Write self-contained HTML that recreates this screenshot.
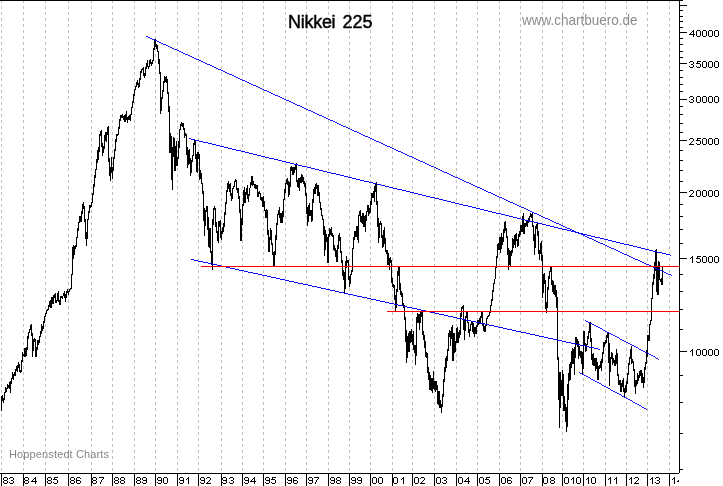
<!DOCTYPE html><html><head><meta charset="utf-8"><title>Nikkei 225</title><style>
html,body{margin:0;padding:0;background:#fff;}body{width:723px;height:486px;overflow:hidden;position:relative;font-family:"Liberation Sans",sans-serif;}
svg{position:absolute;left:0;top:0;}
.t{position:absolute;white-space:nowrap;line-height:1;color:#000;}#txt{position:absolute;left:0;top:0;width:723px;height:486px;will-change:transform;}
.xl{font-size:11px;letter-spacing:-0.05px;top:476px;-webkit-text-stroke:0.15px #000;transform:scaleY(0.88);transform-origin:0 0;}
.yl{font-size:11px;letter-spacing:0.05px;left:688.6px;-webkit-text-stroke:0.15px #000;transform:scaleY(0.88);transform-origin:0 0;}
</style></head><body>
<svg width="723" height="486" viewBox="0 0 723 486">
<path d="M1.5 0V473M23.5 0V473M45.5 0V473M68.5 0V473M91.5 0V473M112.5 0V473M134.5 0V473M155.5 0V473M177.5 0V473M198.5 0V473M221.5 0V473M242.5 0V473M263.5 0V473M285.5 0V473M306.5 0V473M328.5 0V473M349.5 0V473M370.5 0V473M392.5 0V473M412.5 0V473M434.5 0V473M456.5 0V473M477.5 0V473M499.5 0V473M520.5 0V473M542.5 0V473M562.5 0V473M583.5 0V473M605.5 0V473M626.5 0V473M647.5 0V473M669.5 0V473" stroke="#c0c0c0" stroke-width="1" stroke-dasharray="3 3" fill="none" shape-rendering="crispEdges"/>
<g fill="#000" shape-rendering="crispEdges">
<rect x="0" y="0" width="683" height="1"/>
<rect x="679" y="0" width="1" height="473"/>
<rect x="0" y="473" width="679" height="1"/>
<rect x="1" y="473" width="1" height="13"/>
<rect x="23" y="473" width="1" height="13"/>
<rect x="45" y="473" width="1" height="13"/>
<rect x="68" y="473" width="1" height="13"/>
<rect x="91" y="473" width="1" height="13"/>
<rect x="112" y="473" width="1" height="13"/>
<rect x="134" y="473" width="1" height="13"/>
<rect x="155" y="473" width="1" height="13"/>
<rect x="177" y="473" width="1" height="13"/>
<rect x="198" y="473" width="1" height="13"/>
<rect x="221" y="473" width="1" height="13"/>
<rect x="242" y="473" width="1" height="13"/>
<rect x="263" y="473" width="1" height="13"/>
<rect x="285" y="473" width="1" height="13"/>
<rect x="306" y="473" width="1" height="13"/>
<rect x="328" y="473" width="1" height="13"/>
<rect x="349" y="473" width="1" height="13"/>
<rect x="370" y="473" width="1" height="13"/>
<rect x="392" y="473" width="1" height="13"/>
<rect x="412" y="473" width="1" height="13"/>
<rect x="434" y="473" width="1" height="13"/>
<rect x="456" y="473" width="1" height="13"/>
<rect x="477" y="473" width="1" height="13"/>
<rect x="499" y="473" width="1" height="13"/>
<rect x="520" y="473" width="1" height="13"/>
<rect x="542" y="473" width="1" height="13"/>
<rect x="562" y="473" width="1" height="13"/>
<rect x="583" y="473" width="1" height="13"/>
<rect x="605" y="473" width="1" height="13"/>
<rect x="626" y="473" width="1" height="13"/>
<rect x="647" y="473" width="1" height="13"/>
<rect x="669" y="473" width="1" height="13"/>
<rect x="680" y="469" width="3" height="1"/>
<rect x="680" y="433" width="3" height="1"/>
<rect x="680" y="402" width="3" height="1"/>
<rect x="680" y="375" width="3" height="1"/>
<rect x="680" y="351" width="7" height="1"/>
<rect x="680" y="329" width="3" height="1"/>
<rect x="680" y="309" width="3" height="1"/>
<rect x="680" y="291" width="3" height="1"/>
<rect x="680" y="274" width="3" height="1"/>
<rect x="680" y="258" width="7" height="1"/>
<rect x="680" y="243" width="3" height="1"/>
<rect x="680" y="229" width="3" height="1"/>
<rect x="680" y="216" width="3" height="1"/>
<rect x="680" y="204" width="3" height="1"/>
<rect x="680" y="192" width="7" height="1"/>
<rect x="680" y="181" width="3" height="1"/>
<rect x="680" y="170" width="3" height="1"/>
<rect x="680" y="160" width="3" height="1"/>
<rect x="680" y="150" width="3" height="1"/>
<rect x="680" y="140" width="7" height="1"/>
<rect x="680" y="132" width="3" height="1"/>
<rect x="680" y="123" width="3" height="1"/>
<rect x="680" y="114" width="3" height="1"/>
<rect x="680" y="106" width="3" height="1"/>
<rect x="680" y="99" width="7" height="1"/>
<rect x="680" y="91" width="3" height="1"/>
<rect x="680" y="84" width="3" height="1"/>
<rect x="680" y="77" width="3" height="1"/>
<rect x="680" y="70" width="3" height="1"/>
<rect x="680" y="63" width="7" height="1"/>
<rect x="680" y="57" width="3" height="1"/>
<rect x="680" y="51" width="3" height="1"/>
<rect x="680" y="44" width="3" height="1"/>
<rect x="680" y="38" width="3" height="1"/>
<rect x="680" y="32" width="7" height="1"/>
<rect x="680" y="27" width="3" height="1"/>
<rect x="680" y="21" width="3" height="1"/>
<rect x="680" y="16" width="3" height="1"/>
<rect x="680" y="10" width="3" height="1"/>
<rect x="680" y="5" width="7" height="1"/>
</g>
<path d="M1.3 410.5 L1.3 400.1 L2.3 395.6 L3.5 403.1 L4.6 394.8 L5.8 389.0 L6.6 390.6 L7.8 384.5 L8.6 388.1 L9.6 382.3 L10.5 392.8 L11.0 381.5 L12.0 379.0 L12.6 372.4 L13.3 379.8 L14.3 373.2 L15.3 374.9 L16.6 366.6 L17.4 371.5 L18.6 361.6 L19.6 370.7 L20.9 372.4 L21.7 363.2 L22.9 354.1 L24.1 355.8 L24.9 348.3 L25.7 357.4 L26.9 350.0 L27.4 343.0 L28.5 333.1 L29.5 332.2 L30.4 327.3 L31.5 323.9 L32.0 335.6 L32.9 341.4 L32.4 356.6 L34.0 339.7 L34.9 338.9 L36.2 357.4 L37.8 339.7 L38.7 344.7 L39.8 337.2 L41.0 333.9 L41.5 323.9 L42.5 330.6 L43.5 326.4 L44.5 318.1 L45.6 314.8 L46.5 311.5 L47.6 309.8 L48.5 309.0 L49.5 303.2 L50.3 299.9 L51.1 308.2 L52.1 296.6 L53.1 304.0 L54.1 295.7 L55.3 294.1 L56.1 302.4 L57.3 299.9 L58.3 291.2 L58.9 300.7 L60.1 304.9 L61.1 296.6 L62.2 298.2 L63.4 294.9 L64.7 291.6 L65.4 301.5 L66.4 293.2 L67.6 289.6 L68.4 294.9 L69.4 289.9 L70.5 289.1 L71.5 287.9 L71.7 275.0 L72.5 273.3 L72.3 247.3 L72.9 258.9 L73.6 244.8 L74.3 254.8 L74.9 247.3 L75.8 248.1 L76.6 239.8 L77.6 234.0 L78.6 223.2 L79.4 221.6 L80.2 215.8 L81.1 221.6 L81.9 213.3 L82.7 205.0 L83.6 203.0 L84.2 210.0 L84.9 219.1 L85.7 227.4 L86.4 245.6 L87.1 235.7 L87.7 221.6 L88.7 214.9 L89.7 205.0 L90.7 208.3 L91.5 204.1 L92.7 200.8 L92.4 200.0 L93.2 192.2 L94.4 182.2 L95.5 172.3 L96.8 164.8 L97.7 149.9 L98.5 159.8 L99.5 139.9 L100.3 132.4 L101.2 131.6 L101.8 141.6 L102.7 155.7 L103.5 145.7 L104.5 149.0 L105.3 131.6 L106.3 141.6 L107.3 130.0 L108.5 126.3 L108.8 156.5 L109.6 169.8 L110.6 180.6 L111.5 157.3 L112.4 178.9 L113.4 163.2 L114.4 154.9 L115.6 144.9 L116.6 134.9 L117.8 135.8 L118.9 129.1 L119.6 123.1 L120.6 116.4 L121.6 117.3 L122.6 113.9 L123.4 119.8 L124.4 114.8 L125.2 122.2 L126.4 111.5 L127.4 123.1 L128.4 116.4 L129.4 115.6 L130.2 120.6 L131.2 113.1 L132.4 104.8 L133.5 99.8 L134.6 90.5 L135.6 88.0 L136.6 83.9 L137.6 80.6 L138.6 88.0 L139.6 83.1 L140.4 75.6 L141.4 69.8 L142.4 69.0 L143.4 68.1 L144.4 78.1 L145.4 73.9 L146.4 64.8 L147.4 62.3 L148.4 69.0 L149.4 64.8 L150.4 59.0 L151.4 65.6 L152.4 61.5 L153.2 59.8 L154.0 49.0 L154.9 40.7 L155.5 39.9 L156.3 49.0 L157.2 44.9 L158.0 51.5 L158.7 55.7 L159.5 69.8 L160.3 74.8 L160.8 100.0 L160.7 113.9 L161.7 99.8 L162.7 93.2 L163.7 84.9 L164.7 75.8 L165.7 81.6 L166.7 75.8 L167.6 90.7 L168.4 94.9 L169.2 113.1 L169.7 129.7 L169.9 153.1 L170.6 133.2 L171.2 139.8 L172.1 178.0 L172.4 189.6 L172.9 156.4 L173.4 137.3 L174.2 139.0 L175.1 171.4 L175.7 153.1 L176.4 141.5 L177.1 165.6 L177.9 158.9 L178.7 153.1 L179.5 131.5 L180.5 128.2 L181.5 122.4 L182.4 126.6 L183.2 123.2 L184.0 129.0 L184.9 135.7 L185.9 134.0 L186.7 139.8 L187.5 168.0 L188.3 161.4 L189.2 149.0 L189.8 156.4 L190.7 175.5 L191.5 166.4 L192.3 158.1 L193.2 154.8 L194.0 143.2 L194.8 139.8 L195.6 148.1 L196.5 166.4 L197.3 173.0 L198.1 152.3 L199.0 154.8 L199.8 180.0 L200.6 169.7 L201.5 180.8 L202.3 184.9 L203.1 193.2 L203.9 208.2 L204.4 235.6 L205.3 218.1 L206.1 209.8 L206.9 206.5 L207.8 213.2 L208.4 243.0 L209.3 248.0 L210.1 228.1 L210.7 250.0 L211.7 256.6 L212.4 269.9 L212.4 236.4 L213.1 219.8 L213.9 209.8 L214.6 205.7 L215.4 211.5 L216.1 226.4 L216.9 231.4 L217.6 236.4 L218.4 243.0 L219.0 221.5 L219.9 227.3 L220.5 219.8 L221.2 239.7 L222.0 233.1 L222.7 227.3 L223.5 232.2 L224.4 219.8 L225.2 211.5 L226.0 203.2 L226.8 193.2 L227.7 184.9 L228.5 180.8 L229.3 191.6 L230.2 183.3 L231.0 194.9 L231.7 200.7 L232.5 191.6 L233.3 186.6 L234.1 186.6 L235.0 181.6 L235.8 179.1 L236.6 186.6 L237.5 191.6 L238.3 189.9 L239.1 198.2 L239.8 208.2 L240.5 218.1 L241.0 241.4 L241.6 233.1 L242.3 213.2 L242.9 205.7 L243.6 199.9 L244.3 187.4 L244.9 203.2 L245.8 191.6 L246.6 194.9 L247.4 184.9 L248.3 202.4 L249.1 194.1 L249.9 188.3 L250.7 186.6 L251.6 178.3 L252.2 175.8 L252.9 184.1 L253.7 182.4 L254.6 188.3 L255.4 185.8 L256.2 189.1 L257.1 184.9 L257.9 197.4 L258.7 194.9 L259.5 190.7 L260.4 195.7 L261.2 200.7 L262.0 197.4 L262.9 206.5 L263.5 195.7 L264.4 208.2 L265.2 211.5 L266.0 218.1 L266.8 209.0 L267.7 219.8 L267.5 234.9 L268.3 230.0 L269.1 251.5 L270.0 238.3 L270.8 228.3 L271.6 241.6 L272.4 246.6 L273.3 256.5 L274.1 265.6 L274.9 254.9 L275.8 241.6 L276.6 226.6 L277.4 221.7 L277.9 214.7 L278.8 212.2 L279.6 207.3 L280.4 223.0 L281.2 213.1 L282.1 223.0 L282.9 216.4 L283.7 199.8 L284.6 198.1 L285.4 184.9 L286.2 183.2 L287.1 179.0 L287.9 180.7 L288.7 194.8 L289.5 193.2 L290.4 178.2 L291.2 166.6 L292.0 167.4 L292.9 174.9 L293.7 167.4 L294.5 173.2 L295.4 164.9 L296.2 164.1 L296.8 179.9 L297.7 186.5 L298.5 178.2 L299.3 190.7 L300.2 176.6 L301.0 183.2 L301.8 174.1 L302.7 182.4 L303.5 176.6 L304.3 186.5 L305.1 183.2 L306.0 194.8 L306.8 204.8 L307.6 225.5 L308.5 213.1 L309.3 203.1 L310.1 216.4 L311.0 209.8 L311.8 222.2 L312.6 208.1 L313.4 194.8 L314.3 187.3 L315.1 194.0 L315.9 184.9 L316.8 184.0 L317.6 195.6 L318.4 184.9 L319.3 198.1 L320.1 203.1 L320.9 208.1 L321.7 214.7 L322.6 218.0 L323.4 221.4 L323.9 226.6 L324.7 255.7 L325.6 230.0 L326.4 241.6 L327.2 236.6 L328.0 263.2 L328.9 236.6 L329.7 228.3 L330.5 234.9 L331.4 226.6 L332.2 236.6 L333.0 234.9 L333.9 249.9 L334.7 244.9 L335.5 256.5 L336.3 249.9 L337.2 262.3 L338.0 246.6 L338.8 236.6 L339.7 233.3 L340.5 246.6 L341.3 254.9 L342.2 263.2 L343.0 276.4 L343.8 269.8 L344.6 293.0 L345.5 279.8 L346.3 255.7 L347.1 263.2 L348.0 259.8 L348.8 274.8 L349.6 287.2 L350.5 276.4 L351.3 273.9 L352.1 271.5 L352.6 250.7 L353.4 246.6 L354.3 234.9 L355.1 231.6 L355.9 236.6 L356.8 225.8 L357.6 230.8 L358.3 243.2 L358.8 216.4 L360.4 209.8 L361.2 223.0 L362.1 216.4 L362.9 213.1 L363.2 226.6 L364.6 216.4 L365.4 231.6 L366.2 213.9 L367.1 211.4 L367.9 204.8 L368.7 215.6 L369.5 208.1 L370.4 213.1 L371.2 199.8 L372.0 193.2 L372.9 198.1 L373.7 190.7 L374.5 201.5 L375.2 184.9 L376.0 184.0 L377.1 204.9 L377.9 218.1 L378.6 242.2 L378.6 242.5 L379.4 229.8 L380.3 221.5 L381.1 223.1 L381.9 234.7 L382.8 248.0 L383.6 236.4 L384.4 227.3 L385.2 245.0 L386.1 252.4 L386.9 250.0 L387.7 264.9 L388.6 253.3 L389.4 269.9 L390.2 256.6 L391.1 261.6 L391.6 283.2 L392.4 278.2 L393.2 288.1 L394.0 284.8 L394.9 294.8 L395.7 311.4 L396.5 296.4 L397.4 286.5 L398.2 269.9 L399.0 266.6 L399.5 289.8 L400.4 283.2 L401.2 296.4 L402.0 293.1 L402.8 306.4 L403.7 303.1 L405.0 318.3 L405.8 326.6 L406.6 363.1 L407.4 348.1 L408.3 333.2 L409.1 351.5 L409.9 331.5 L410.8 343.2 L411.6 329.0 L412.4 344.8 L413.3 331.5 L414.1 349.8 L414.9 348.1 L415.7 364.7 L416.6 324.9 L417.4 313.3 L418.2 323.2 L419.1 314.1 L419.6 329.9 L420.4 312.4 L421.2 316.6 L422.1 312.4 L422.9 334.9 L423.7 331.5 L424.5 348.1 L425.4 341.5 L426.2 358.1 L427.0 353.1 L427.9 373.2 L428.7 366.6 L429.5 389.8 L430.4 374.9 L431.2 390.7 L432.0 378.2 L432.8 393.2 L433.3 370.7 L434.2 389.8 L435.0 381.5 L435.8 391.5 L436.5 381.5 L437.3 389.8 L438.2 404.8 L439.0 391.5 L439.8 408.1 L440.6 399.8 L441.5 413.1 L442.3 401.5 L443.1 394.8 L444.0 379.9 L444.8 373.2 L445.6 358.1 L446.5 368.0 L447.3 353.1 L448.1 349.8 L448.9 334.9 L449.8 329.9 L450.6 345.6 L451.4 328.2 L452.3 326.6 L453.1 360.6 L453.9 333.2 L454.8 353.1 L455.6 344.8 L456.4 339.8 L457.2 327.4 L458.1 343.2 L458.9 332.4 L459.7 338.2 L460.6 321.6 L461.4 308.3 L462.2 307.5 L463.0 306.6 L463.9 319.9 L464.4 339.8 L465.2 324.9 L466.0 316.6 L466.9 312.4 L467.7 321.6 L468.5 324.9 L469.4 336.5 L470.2 328.2 L471.0 324.9 L471.8 321.6 L472.7 331.5 L473.5 323.2 L474.3 336.5 L475.2 326.6 L476.0 334.0 L476.8 327.4 L477.7 319.9 L478.5 324.9 L479.3 318.3 L480.1 324.1 L481.0 316.6 L481.8 310.8 L482.6 319.9 L483.5 330.7 L484.3 326.6 L485.1 332.4 L486.0 324.9 L486.8 319.1 L487.6 316.6 L488.4 315.8 L489.3 314.9 L490.1 311.6 L490.9 305.8 L491.8 301.7 L492.1 299.8 L492.9 291.5 L493.8 284.9 L494.6 279.9 L495.4 278.3 L495.7 269.7 L496.6 261.4 L497.4 253.1 L498.2 243.2 L499.1 249.8 L499.9 237.3 L500.7 253.1 L501.6 233.2 L502.4 244.8 L503.2 239.8 L504.0 231.5 L504.5 222.4 L505.4 221.6 L506.2 231.5 L507.0 236.5 L507.9 248.1 L508.7 269.7 L509.5 249.8 L510.4 266.4 L511.2 249.8 L512.0 253.1 L512.8 238.2 L513.7 248.1 L514.5 234.9 L515.3 248.1 L516.2 233.2 L517.0 239.8 L517.8 246.5 L518.7 238.2 L519.5 230.7 L520.3 234.9 L521.1 224.9 L522.0 232.4 L522.8 218.3 L523.6 213.3 L524.1 234.0 L525.0 223.2 L525.8 226.6 L526.6 220.7 L527.4 227.4 L528.3 218.3 L529.1 222.4 L529.9 216.6 L530.8 214.1 L531.6 218.3 L532.4 212.4 L532.9 224.9 L533.8 231.5 L534.6 254.8 L535.4 234.9 L536.2 224.9 L537.1 224.1 L537.9 230.7 L538.7 248.1 L539.6 259.8 L540.4 244.8 L541.2 243.2 L542.1 258.1 L542.7 298.2 L543.5 276.6 L544.4 273.3 L545.2 284.9 L546.0 308.1 L546.7 313.1 L547.5 293.2 L548.4 284.9 L549.2 274.9 L550.0 271.6 L550.9 267.5 L551.7 276.6 L552.5 291.5 L553.3 280.7 L554.2 294.9 L555.0 284.9 L555.8 296.5 L556.7 289.9 L557.2 309.8 L557.6 354.0 L558.4 362.0 L558.4 397.0 L558.9 375.0 L559.4 428.0 L559.9 372.0 L560.4 408.0 L560.9 385.0 L561.4 396.0 L561.9 389.0 L562.4 370.0 L562.9 396.0 L563.2 374.0 L563.6 411.0 L564.4 396.0 L564.9 411.0 L565.4 404.0 L565.9 415.0 L566.5 432.0 L567.3 400.0 L567.5 427.0 L568.2 380.0 L568.5 400.0 L569.0 376.0 L569.6 364.0 L570.2 380.0 L570.6 362.0 L571.2 368.0 L571.5 351.0 L571.9 364.0 L572.3 348.5 L572.7 363.0 L573.2 349.5 L573.6 364.0 L574.0 355.0 L574.5 374.7 L575.3 339.9 L576.2 337.4 L577.0 344.9 L577.8 339.0 L578.7 359.0 L579.5 345.7 L580.3 358.1 L581.1 351.5 L582.0 361.5 L582.8 373.9 L583.3 341.5 L584.1 330.7 L585.0 344.9 L585.8 351.5 L586.6 345.7 L587.4 343.2 L588.3 334.9 L589.1 331.6 L589.9 322.4 L590.8 336.6 L591.6 348.2 L592.4 364.8 L593.3 353.2 L594.1 366.4 L594.9 358.1 L595.7 371.4 L596.6 358.1 L597.4 369.8 L598.1 379.7 L598.9 366.4 L599.7 368.1 L600.6 361.5 L601.4 371.4 L602.2 358.1 L603.0 353.2 L603.9 344.0 L604.7 345.7 L605.5 339.9 L606.4 342.4 L607.2 334.9 L608.0 332.4 L608.9 343.2 L609.4 385.5 L610.2 363.1 L611.0 358.1 L611.8 352.3 L612.7 364.8 L613.5 358.1 L614.3 363.1 L615.2 366.4 L616.0 356.5 L616.8 349.0 L617.3 371.4 L618.3 376.6 L619.1 384.9 L620.0 380.0 L620.8 392.4 L621.6 383.3 L622.5 386.6 L623.3 378.3 L624.1 391.6 L624.6 397.4 L625.5 384.9 L626.3 391.6 L627.1 381.6 L627.9 375.0 L628.1 373.1 L628.9 364.8 L629.8 359.0 L630.6 354.8 L631.4 345.7 L631.9 361.5 L632.8 359.8 L633.6 366.4 L634.4 373.1 L635.1 386.6 L635.6 394.1 L636.1 379.7 L636.9 383.9 L637.7 373.1 L638.6 381.4 L639.4 371.4 L640.2 376.4 L641.1 369.8 L641.9 383.0 L642.7 373.1 L643.5 388.0 L644.4 376.4 L645.2 366.4 L646.0 363.1 L646.9 356.5 L647.4 343.2 L648.2 334.9 L649.0 340.7 L649.9 324.9 L650.7 321.6 L651.5 319.1 L651.9 306.6 L651.7 299.0 L652.5 297.0 L653.0 282.5 L653.8 281.0 L654.3 271.5 L654.9 270.0 L655.4 252.0 L655.6 271.0 L656.0 250.5 L656.4 249.0 L656.5 271.0 L656.8 251.0 L657.0 292.0 L657.6 281.0 L658.0 294.5 L658.3 262.0 L658.7 261.2 L658.9 279.0 L659.4 262.0 L659.8 279.5 L660.6 279.5 L661.4 283.0 L661.9 285.4 L662.5 266.5 L662.7 282.6" stroke="#000" stroke-width="1.25" fill="none" stroke-linejoin="miter" shape-rendering="crispEdges"/>
<g stroke="#0000ff" stroke-width="1" fill="none" shape-rendering="crispEdges">
<line x1="146.1" y1="36.1" x2="671.7" y2="275.5" stroke-width="0.910"/>
<line x1="189.0" y1="138.5" x2="671.0" y2="255.3" stroke-width="0.972"/>
<line x1="191.2" y1="259.4" x2="600.0" y2="349.4" stroke-width="0.977"/>
<line x1="585.1" y1="320.3" x2="658.9" y2="359.3" stroke-width="0.884"/>
<line x1="579.0" y1="372.2" x2="647.0" y2="409.5" stroke-width="0.877"/>
</g>
<g fill="#ff0000" shape-rendering="crispEdges"><rect x="201" y="266" width="478" height="1"/><rect x="387" y="311" width="292" height="1"/></g>
<path d="M4 477h3v1h-3zM3 478h1v1h-1zM7 478h1v1h-1zM3 479h1v1h-1zM7 479h1v1h-1zM4 480h3v1h-3zM3 481h1v1h-1zM7 481h1v1h-1zM3 482h1v1h-1zM7 482h1v1h-1zM4 483h3v1h-3zM10 477h3v1h-3zM9 478h1v1h-1zM13 478h1v1h-1zM13 479h1v1h-1zM11 480h2v1h-2zM13 481h1v1h-1zM9 482h1v1h-1zM13 482h1v1h-1zM10 483h3v1h-3zM25 477h3v1h-3zM24 478h1v1h-1zM28 478h1v1h-1zM24 479h1v1h-1zM28 479h1v1h-1zM25 480h3v1h-3zM24 481h1v1h-1zM28 481h1v1h-1zM24 482h1v1h-1zM28 482h1v1h-1zM25 483h3v1h-3zM35 477h1v1h-1zM34 478h2v1h-2zM33 479h1v1h-1zM35 479h1v1h-1zM32 480h1v1h-1zM35 480h1v1h-1zM31 481h6v1h-6zM35 482h1v1h-1zM35 483h1v1h-1zM48 477h3v1h-3zM47 478h1v1h-1zM51 478h1v1h-1zM47 479h1v1h-1zM51 479h1v1h-1zM48 480h3v1h-3zM47 481h1v1h-1zM51 481h1v1h-1zM47 482h1v1h-1zM51 482h1v1h-1zM48 483h3v1h-3zM54 477h4v1h-4zM54 478h1v1h-1zM53 479h4v1h-4zM57 480h1v1h-1zM57 481h1v1h-1zM53 482h1v1h-1zM57 482h1v1h-1zM54 483h3v1h-3zM71 477h3v1h-3zM70 478h1v1h-1zM74 478h1v1h-1zM70 479h1v1h-1zM74 479h1v1h-1zM71 480h3v1h-3zM70 481h1v1h-1zM74 481h1v1h-1zM70 482h1v1h-1zM74 482h1v1h-1zM71 483h3v1h-3zM77 477h3v1h-3zM76 478h1v1h-1zM80 478h1v1h-1zM76 479h1v1h-1zM76 480h4v1h-4zM76 481h1v1h-1zM80 481h1v1h-1zM76 482h1v1h-1zM80 482h1v1h-1zM77 483h3v1h-3zM93 477h3v1h-3zM92 478h1v1h-1zM96 478h1v1h-1zM92 479h1v1h-1zM96 479h1v1h-1zM93 480h3v1h-3zM92 481h1v1h-1zM96 481h1v1h-1zM92 482h1v1h-1zM96 482h1v1h-1zM93 483h3v1h-3zM99 477h5v1h-5zM103 478h1v1h-1zM102 479h1v1h-1zM101 480h1v1h-1zM101 481h1v1h-1zM100 482h1v1h-1zM100 483h1v1h-1zM115 477h3v1h-3zM114 478h1v1h-1zM118 478h1v1h-1zM114 479h1v1h-1zM118 479h1v1h-1zM115 480h3v1h-3zM114 481h1v1h-1zM118 481h1v1h-1zM114 482h1v1h-1zM118 482h1v1h-1zM115 483h3v1h-3zM121 477h3v1h-3zM120 478h1v1h-1zM124 478h1v1h-1zM120 479h1v1h-1zM124 479h1v1h-1zM121 480h3v1h-3zM120 481h1v1h-1zM124 481h1v1h-1zM120 482h1v1h-1zM124 482h1v1h-1zM121 483h3v1h-3zM137 477h3v1h-3zM136 478h1v1h-1zM140 478h1v1h-1zM136 479h1v1h-1zM140 479h1v1h-1zM137 480h3v1h-3zM136 481h1v1h-1zM140 481h1v1h-1zM136 482h1v1h-1zM140 482h1v1h-1zM137 483h3v1h-3zM143 477h3v1h-3zM142 478h1v1h-1zM146 478h1v1h-1zM142 479h1v1h-1zM146 479h1v1h-1zM143 480h4v1h-4zM146 481h1v1h-1zM142 482h1v1h-1zM146 482h1v1h-1zM143 483h3v1h-3zM158 477h3v1h-3zM157 478h1v1h-1zM161 478h1v1h-1zM157 479h1v1h-1zM161 479h1v1h-1zM158 480h4v1h-4zM161 481h1v1h-1zM157 482h1v1h-1zM161 482h1v1h-1zM158 483h3v1h-3zM164 477h3v1h-3zM163 478h1v1h-1zM167 478h1v1h-1zM163 479h1v1h-1zM167 479h1v1h-1zM163 480h1v1h-1zM167 480h1v1h-1zM163 481h1v1h-1zM167 481h1v1h-1zM163 482h1v1h-1zM167 482h1v1h-1zM164 483h3v1h-3zM180 477h3v1h-3zM179 478h1v1h-1zM183 478h1v1h-1zM179 479h1v1h-1zM183 479h1v1h-1zM180 480h4v1h-4zM183 481h1v1h-1zM179 482h1v1h-1zM183 482h1v1h-1zM180 483h3v1h-3zM188 477h1v1h-1zM187 478h2v1h-2zM186 479h1v1h-1zM188 479h1v1h-1zM188 480h1v1h-1zM188 481h1v1h-1zM188 482h1v1h-1zM188 483h1v1h-1zM201 477h3v1h-3zM200 478h1v1h-1zM204 478h1v1h-1zM200 479h1v1h-1zM204 479h1v1h-1zM201 480h4v1h-4zM204 481h1v1h-1zM200 482h1v1h-1zM204 482h1v1h-1zM201 483h3v1h-3zM207 477h3v1h-3zM206 478h1v1h-1zM210 478h1v1h-1zM210 479h1v1h-1zM209 480h1v1h-1zM208 481h1v1h-1zM207 482h1v1h-1zM206 483h5v1h-5zM223 477h3v1h-3zM222 478h1v1h-1zM226 478h1v1h-1zM222 479h1v1h-1zM226 479h1v1h-1zM223 480h4v1h-4zM226 481h1v1h-1zM222 482h1v1h-1zM226 482h1v1h-1zM223 483h3v1h-3zM230 477h3v1h-3zM229 478h1v1h-1zM233 478h1v1h-1zM233 479h1v1h-1zM231 480h2v1h-2zM233 481h1v1h-1zM229 482h1v1h-1zM233 482h1v1h-1zM230 483h3v1h-3zM245 477h3v1h-3zM244 478h1v1h-1zM248 478h1v1h-1zM244 479h1v1h-1zM248 479h1v1h-1zM245 480h4v1h-4zM248 481h1v1h-1zM244 482h1v1h-1zM248 482h1v1h-1zM245 483h3v1h-3zM254 477h1v1h-1zM253 478h2v1h-2zM252 479h1v1h-1zM254 479h1v1h-1zM251 480h1v1h-1zM254 480h1v1h-1zM250 481h6v1h-6zM254 482h1v1h-1zM254 483h1v1h-1zM266 477h3v1h-3zM265 478h1v1h-1zM269 478h1v1h-1zM265 479h1v1h-1zM269 479h1v1h-1zM266 480h4v1h-4zM269 481h1v1h-1zM265 482h1v1h-1zM269 482h1v1h-1zM266 483h3v1h-3zM272 477h4v1h-4zM272 478h1v1h-1zM271 479h4v1h-4zM275 480h1v1h-1zM275 481h1v1h-1zM271 482h1v1h-1zM275 482h1v1h-1zM272 483h3v1h-3zM288 477h3v1h-3zM287 478h1v1h-1zM291 478h1v1h-1zM287 479h1v1h-1zM291 479h1v1h-1zM288 480h4v1h-4zM291 481h1v1h-1zM287 482h1v1h-1zM291 482h1v1h-1zM288 483h3v1h-3zM294 477h3v1h-3zM293 478h1v1h-1zM297 478h1v1h-1zM293 479h1v1h-1zM293 480h4v1h-4zM293 481h1v1h-1zM297 481h1v1h-1zM293 482h1v1h-1zM297 482h1v1h-1zM294 483h3v1h-3zM309 477h3v1h-3zM308 478h1v1h-1zM312 478h1v1h-1zM308 479h1v1h-1zM312 479h1v1h-1zM309 480h4v1h-4zM312 481h1v1h-1zM308 482h1v1h-1zM312 482h1v1h-1zM309 483h3v1h-3zM314 477h5v1h-5zM318 478h1v1h-1zM317 479h1v1h-1zM316 480h1v1h-1zM316 481h1v1h-1zM315 482h1v1h-1zM315 483h1v1h-1zM331 477h3v1h-3zM330 478h1v1h-1zM334 478h1v1h-1zM330 479h1v1h-1zM334 479h1v1h-1zM331 480h4v1h-4zM334 481h1v1h-1zM330 482h1v1h-1zM334 482h1v1h-1zM331 483h3v1h-3zM337 477h3v1h-3zM336 478h1v1h-1zM340 478h1v1h-1zM336 479h1v1h-1zM340 479h1v1h-1zM337 480h3v1h-3zM336 481h1v1h-1zM340 481h1v1h-1zM336 482h1v1h-1zM340 482h1v1h-1zM337 483h3v1h-3zM352 477h3v1h-3zM351 478h1v1h-1zM355 478h1v1h-1zM351 479h1v1h-1zM355 479h1v1h-1zM352 480h4v1h-4zM355 481h1v1h-1zM351 482h1v1h-1zM355 482h1v1h-1zM352 483h3v1h-3zM358 477h3v1h-3zM357 478h1v1h-1zM361 478h1v1h-1zM357 479h1v1h-1zM361 479h1v1h-1zM358 480h4v1h-4zM361 481h1v1h-1zM357 482h1v1h-1zM361 482h1v1h-1zM358 483h3v1h-3zM373 477h3v1h-3zM372 478h1v1h-1zM376 478h1v1h-1zM372 479h1v1h-1zM376 479h1v1h-1zM372 480h1v1h-1zM376 480h1v1h-1zM372 481h1v1h-1zM376 481h1v1h-1zM372 482h1v1h-1zM376 482h1v1h-1zM373 483h3v1h-3zM379 477h3v1h-3zM378 478h1v1h-1zM382 478h1v1h-1zM378 479h1v1h-1zM382 479h1v1h-1zM378 480h1v1h-1zM382 480h1v1h-1zM378 481h1v1h-1zM382 481h1v1h-1zM378 482h1v1h-1zM382 482h1v1h-1zM379 483h3v1h-3zM394 477h3v1h-3zM393 478h1v1h-1zM397 478h1v1h-1zM393 479h1v1h-1zM397 479h1v1h-1zM393 480h1v1h-1zM397 480h1v1h-1zM393 481h1v1h-1zM397 481h1v1h-1zM393 482h1v1h-1zM397 482h1v1h-1zM394 483h3v1h-3zM403 477h1v1h-1zM402 478h2v1h-2zM401 479h1v1h-1zM403 479h1v1h-1zM403 480h1v1h-1zM403 481h1v1h-1zM403 482h1v1h-1zM403 483h1v1h-1zM415 477h3v1h-3zM414 478h1v1h-1zM418 478h1v1h-1zM414 479h1v1h-1zM418 479h1v1h-1zM414 480h1v1h-1zM418 480h1v1h-1zM414 481h1v1h-1zM418 481h1v1h-1zM414 482h1v1h-1zM418 482h1v1h-1zM415 483h3v1h-3zM421 477h3v1h-3zM420 478h1v1h-1zM424 478h1v1h-1zM424 479h1v1h-1zM423 480h1v1h-1zM422 481h1v1h-1zM421 482h1v1h-1zM420 483h5v1h-5zM437 477h3v1h-3zM436 478h1v1h-1zM440 478h1v1h-1zM436 479h1v1h-1zM440 479h1v1h-1zM436 480h1v1h-1zM440 480h1v1h-1zM436 481h1v1h-1zM440 481h1v1h-1zM436 482h1v1h-1zM440 482h1v1h-1zM437 483h3v1h-3zM443 477h3v1h-3zM442 478h1v1h-1zM446 478h1v1h-1zM446 479h1v1h-1zM444 480h2v1h-2zM446 481h1v1h-1zM442 482h1v1h-1zM446 482h1v1h-1zM443 483h3v1h-3zM459 477h3v1h-3zM458 478h1v1h-1zM462 478h1v1h-1zM458 479h1v1h-1zM462 479h1v1h-1zM458 480h1v1h-1zM462 480h1v1h-1zM458 481h1v1h-1zM462 481h1v1h-1zM458 482h1v1h-1zM462 482h1v1h-1zM459 483h3v1h-3zM468 477h1v1h-1zM467 478h2v1h-2zM466 479h1v1h-1zM468 479h1v1h-1zM465 480h1v1h-1zM468 480h1v1h-1zM464 481h6v1h-6zM468 482h1v1h-1zM468 483h1v1h-1zM480 477h3v1h-3zM479 478h1v1h-1zM483 478h1v1h-1zM479 479h1v1h-1zM483 479h1v1h-1zM479 480h1v1h-1zM483 480h1v1h-1zM479 481h1v1h-1zM483 481h1v1h-1zM479 482h1v1h-1zM483 482h1v1h-1zM480 483h3v1h-3zM486 477h4v1h-4zM486 478h1v1h-1zM485 479h4v1h-4zM489 480h1v1h-1zM489 481h1v1h-1zM485 482h1v1h-1zM489 482h1v1h-1zM486 483h3v1h-3zM502 477h3v1h-3zM501 478h1v1h-1zM505 478h1v1h-1zM501 479h1v1h-1zM505 479h1v1h-1zM501 480h1v1h-1zM505 480h1v1h-1zM501 481h1v1h-1zM505 481h1v1h-1zM501 482h1v1h-1zM505 482h1v1h-1zM502 483h3v1h-3zM508 477h3v1h-3zM507 478h1v1h-1zM511 478h1v1h-1zM507 479h1v1h-1zM507 480h4v1h-4zM507 481h1v1h-1zM511 481h1v1h-1zM507 482h1v1h-1zM511 482h1v1h-1zM508 483h3v1h-3zM523 477h3v1h-3zM522 478h1v1h-1zM526 478h1v1h-1zM522 479h1v1h-1zM526 479h1v1h-1zM522 480h1v1h-1zM526 480h1v1h-1zM522 481h1v1h-1zM526 481h1v1h-1zM522 482h1v1h-1zM526 482h1v1h-1zM523 483h3v1h-3zM528 477h5v1h-5zM532 478h1v1h-1zM531 479h1v1h-1zM530 480h1v1h-1zM530 481h1v1h-1zM529 482h1v1h-1zM529 483h1v1h-1zM544 477h3v1h-3zM543 478h1v1h-1zM547 478h1v1h-1zM543 479h1v1h-1zM547 479h1v1h-1zM543 480h1v1h-1zM547 480h1v1h-1zM543 481h1v1h-1zM547 481h1v1h-1zM543 482h1v1h-1zM547 482h1v1h-1zM544 483h3v1h-3zM551 477h3v1h-3zM550 478h1v1h-1zM554 478h1v1h-1zM550 479h1v1h-1zM554 479h1v1h-1zM551 480h3v1h-3zM550 481h1v1h-1zM554 481h1v1h-1zM550 482h1v1h-1zM554 482h1v1h-1zM551 483h3v1h-3zM565 477h3v1h-3zM564 478h1v1h-1zM568 478h1v1h-1zM564 479h1v1h-1zM568 479h1v1h-1zM564 480h1v1h-1zM568 480h1v1h-1zM564 481h1v1h-1zM568 481h1v1h-1zM564 482h1v1h-1zM568 482h1v1h-1zM565 483h3v1h-3zM573 477h1v1h-1zM572 478h2v1h-2zM571 479h1v1h-1zM573 479h1v1h-1zM573 480h1v1h-1zM573 481h1v1h-1zM573 482h1v1h-1zM573 483h1v1h-1zM577 477h3v1h-3zM576 478h1v1h-1zM580 478h1v1h-1zM576 479h1v1h-1zM580 479h1v1h-1zM576 480h1v1h-1zM580 480h1v1h-1zM576 481h1v1h-1zM580 481h1v1h-1zM576 482h1v1h-1zM580 482h1v1h-1zM577 483h3v1h-3zM588 477h1v1h-1zM587 478h2v1h-2zM586 479h1v1h-1zM588 479h1v1h-1zM588 480h1v1h-1zM588 481h1v1h-1zM588 482h1v1h-1zM588 483h1v1h-1zM592 477h3v1h-3zM591 478h1v1h-1zM595 478h1v1h-1zM591 479h1v1h-1zM595 479h1v1h-1zM591 480h1v1h-1zM595 480h1v1h-1zM591 481h1v1h-1zM595 481h1v1h-1zM591 482h1v1h-1zM595 482h1v1h-1zM592 483h3v1h-3zM610 477h1v1h-1zM609 478h2v1h-2zM608 479h1v1h-1zM610 479h1v1h-1zM610 480h1v1h-1zM610 481h1v1h-1zM610 482h1v1h-1zM610 483h1v1h-1zM616 477h1v1h-1zM615 478h2v1h-2zM614 479h1v1h-1zM616 479h1v1h-1zM616 480h1v1h-1zM616 481h1v1h-1zM616 482h1v1h-1zM616 483h1v1h-1zM631 477h1v1h-1zM630 478h2v1h-2zM629 479h1v1h-1zM631 479h1v1h-1zM631 480h1v1h-1zM631 481h1v1h-1zM631 482h1v1h-1zM631 483h1v1h-1zM635 477h3v1h-3zM634 478h1v1h-1zM638 478h1v1h-1zM638 479h1v1h-1zM637 480h1v1h-1zM636 481h1v1h-1zM635 482h1v1h-1zM634 483h5v1h-5zM652 477h1v1h-1zM651 478h2v1h-2zM650 479h1v1h-1zM652 479h1v1h-1zM652 480h1v1h-1zM652 481h1v1h-1zM652 482h1v1h-1zM652 483h1v1h-1zM656 477h3v1h-3zM655 478h1v1h-1zM659 478h1v1h-1zM659 479h1v1h-1zM657 480h2v1h-2zM659 481h1v1h-1zM655 482h1v1h-1zM659 482h1v1h-1zM656 483h3v1h-3zM674 477h1v1h-1zM673 478h2v1h-2zM672 479h1v1h-1zM674 479h1v1h-1zM674 480h1v1h-1zM674 481h1v1h-1zM674 482h1v1h-1zM674 483h1v1h-1zM678 480h1v1h-1zM677 481h2v1h-2zM692 349h1v1h-1zM691 350h2v1h-2zM690 351h1v1h-1zM692 351h1v1h-1zM692 352h1v1h-1zM692 353h1v1h-1zM692 354h1v1h-1zM692 355h1v1h-1zM697 349h3v1h-3zM696 350h1v1h-1zM700 350h1v1h-1zM696 351h1v1h-1zM700 351h1v1h-1zM696 352h1v1h-1zM700 352h1v1h-1zM696 353h1v1h-1zM700 353h1v1h-1zM696 354h1v1h-1zM700 354h1v1h-1zM697 355h3v1h-3zM703 349h3v1h-3zM702 350h1v1h-1zM706 350h1v1h-1zM702 351h1v1h-1zM706 351h1v1h-1zM702 352h1v1h-1zM706 352h1v1h-1zM702 353h1v1h-1zM706 353h1v1h-1zM702 354h1v1h-1zM706 354h1v1h-1zM703 355h3v1h-3zM709 349h3v1h-3zM708 350h1v1h-1zM712 350h1v1h-1zM708 351h1v1h-1zM712 351h1v1h-1zM708 352h1v1h-1zM712 352h1v1h-1zM708 353h1v1h-1zM712 353h1v1h-1zM708 354h1v1h-1zM712 354h1v1h-1zM709 355h3v1h-3zM715 349h3v1h-3zM714 350h1v1h-1zM718 350h1v1h-1zM714 351h1v1h-1zM718 351h1v1h-1zM714 352h1v1h-1zM718 352h1v1h-1zM714 353h1v1h-1zM718 353h1v1h-1zM714 354h1v1h-1zM718 354h1v1h-1zM715 355h3v1h-3zM692 256h1v1h-1zM691 257h2v1h-2zM690 258h1v1h-1zM692 258h1v1h-1zM692 259h1v1h-1zM692 260h1v1h-1zM692 261h1v1h-1zM692 262h1v1h-1zM697 256h4v1h-4zM697 257h1v1h-1zM696 258h4v1h-4zM700 259h1v1h-1zM700 260h1v1h-1zM696 261h1v1h-1zM700 261h1v1h-1zM697 262h3v1h-3zM703 256h3v1h-3zM702 257h1v1h-1zM706 257h1v1h-1zM702 258h1v1h-1zM706 258h1v1h-1zM702 259h1v1h-1zM706 259h1v1h-1zM702 260h1v1h-1zM706 260h1v1h-1zM702 261h1v1h-1zM706 261h1v1h-1zM703 262h3v1h-3zM709 256h3v1h-3zM708 257h1v1h-1zM712 257h1v1h-1zM708 258h1v1h-1zM712 258h1v1h-1zM708 259h1v1h-1zM712 259h1v1h-1zM708 260h1v1h-1zM712 260h1v1h-1zM708 261h1v1h-1zM712 261h1v1h-1zM709 262h3v1h-3zM715 256h3v1h-3zM714 257h1v1h-1zM718 257h1v1h-1zM714 258h1v1h-1zM718 258h1v1h-1zM714 259h1v1h-1zM718 259h1v1h-1zM714 260h1v1h-1zM718 260h1v1h-1zM714 261h1v1h-1zM718 261h1v1h-1zM715 262h3v1h-3zM690 190h3v1h-3zM689 191h1v1h-1zM693 191h1v1h-1zM693 192h1v1h-1zM692 193h1v1h-1zM691 194h1v1h-1zM690 195h1v1h-1zM689 196h5v1h-5zM697 190h3v1h-3zM696 191h1v1h-1zM700 191h1v1h-1zM696 192h1v1h-1zM700 192h1v1h-1zM696 193h1v1h-1zM700 193h1v1h-1zM696 194h1v1h-1zM700 194h1v1h-1zM696 195h1v1h-1zM700 195h1v1h-1zM697 196h3v1h-3zM703 190h3v1h-3zM702 191h1v1h-1zM706 191h1v1h-1zM702 192h1v1h-1zM706 192h1v1h-1zM702 193h1v1h-1zM706 193h1v1h-1zM702 194h1v1h-1zM706 194h1v1h-1zM702 195h1v1h-1zM706 195h1v1h-1zM703 196h3v1h-3zM709 190h3v1h-3zM708 191h1v1h-1zM712 191h1v1h-1zM708 192h1v1h-1zM712 192h1v1h-1zM708 193h1v1h-1zM712 193h1v1h-1zM708 194h1v1h-1zM712 194h1v1h-1zM708 195h1v1h-1zM712 195h1v1h-1zM709 196h3v1h-3zM715 190h3v1h-3zM714 191h1v1h-1zM718 191h1v1h-1zM714 192h1v1h-1zM718 192h1v1h-1zM714 193h1v1h-1zM718 193h1v1h-1zM714 194h1v1h-1zM718 194h1v1h-1zM714 195h1v1h-1zM718 195h1v1h-1zM715 196h3v1h-3zM690 138h3v1h-3zM689 139h1v1h-1zM693 139h1v1h-1zM693 140h1v1h-1zM692 141h1v1h-1zM691 142h1v1h-1zM690 143h1v1h-1zM689 144h5v1h-5zM697 138h4v1h-4zM697 139h1v1h-1zM696 140h4v1h-4zM700 141h1v1h-1zM700 142h1v1h-1zM696 143h1v1h-1zM700 143h1v1h-1zM697 144h3v1h-3zM703 138h3v1h-3zM702 139h1v1h-1zM706 139h1v1h-1zM702 140h1v1h-1zM706 140h1v1h-1zM702 141h1v1h-1zM706 141h1v1h-1zM702 142h1v1h-1zM706 142h1v1h-1zM702 143h1v1h-1zM706 143h1v1h-1zM703 144h3v1h-3zM709 138h3v1h-3zM708 139h1v1h-1zM712 139h1v1h-1zM708 140h1v1h-1zM712 140h1v1h-1zM708 141h1v1h-1zM712 141h1v1h-1zM708 142h1v1h-1zM712 142h1v1h-1zM708 143h1v1h-1zM712 143h1v1h-1zM709 144h3v1h-3zM715 138h3v1h-3zM714 139h1v1h-1zM718 139h1v1h-1zM714 140h1v1h-1zM718 140h1v1h-1zM714 141h1v1h-1zM718 141h1v1h-1zM714 142h1v1h-1zM718 142h1v1h-1zM714 143h1v1h-1zM718 143h1v1h-1zM715 144h3v1h-3zM690 96h3v1h-3zM689 97h1v1h-1zM693 97h1v1h-1zM693 98h1v1h-1zM691 99h2v1h-2zM693 100h1v1h-1zM689 101h1v1h-1zM693 101h1v1h-1zM690 102h3v1h-3zM697 96h3v1h-3zM696 97h1v1h-1zM700 97h1v1h-1zM696 98h1v1h-1zM700 98h1v1h-1zM696 99h1v1h-1zM700 99h1v1h-1zM696 100h1v1h-1zM700 100h1v1h-1zM696 101h1v1h-1zM700 101h1v1h-1zM697 102h3v1h-3zM703 96h3v1h-3zM702 97h1v1h-1zM706 97h1v1h-1zM702 98h1v1h-1zM706 98h1v1h-1zM702 99h1v1h-1zM706 99h1v1h-1zM702 100h1v1h-1zM706 100h1v1h-1zM702 101h1v1h-1zM706 101h1v1h-1zM703 102h3v1h-3zM709 96h3v1h-3zM708 97h1v1h-1zM712 97h1v1h-1zM708 98h1v1h-1zM712 98h1v1h-1zM708 99h1v1h-1zM712 99h1v1h-1zM708 100h1v1h-1zM712 100h1v1h-1zM708 101h1v1h-1zM712 101h1v1h-1zM709 102h3v1h-3zM715 96h3v1h-3zM714 97h1v1h-1zM718 97h1v1h-1zM714 98h1v1h-1zM718 98h1v1h-1zM714 99h1v1h-1zM718 99h1v1h-1zM714 100h1v1h-1zM718 100h1v1h-1zM714 101h1v1h-1zM718 101h1v1h-1zM715 102h3v1h-3zM690 61h3v1h-3zM689 62h1v1h-1zM693 62h1v1h-1zM693 63h1v1h-1zM691 64h2v1h-2zM693 65h1v1h-1zM689 66h1v1h-1zM693 66h1v1h-1zM690 67h3v1h-3zM697 61h4v1h-4zM697 62h1v1h-1zM696 63h4v1h-4zM700 64h1v1h-1zM700 65h1v1h-1zM696 66h1v1h-1zM700 66h1v1h-1zM697 67h3v1h-3zM703 61h3v1h-3zM702 62h1v1h-1zM706 62h1v1h-1zM702 63h1v1h-1zM706 63h1v1h-1zM702 64h1v1h-1zM706 64h1v1h-1zM702 65h1v1h-1zM706 65h1v1h-1zM702 66h1v1h-1zM706 66h1v1h-1zM703 67h3v1h-3zM709 61h3v1h-3zM708 62h1v1h-1zM712 62h1v1h-1zM708 63h1v1h-1zM712 63h1v1h-1zM708 64h1v1h-1zM712 64h1v1h-1zM708 65h1v1h-1zM712 65h1v1h-1zM708 66h1v1h-1zM712 66h1v1h-1zM709 67h3v1h-3zM715 61h3v1h-3zM714 62h1v1h-1zM718 62h1v1h-1zM714 63h1v1h-1zM718 63h1v1h-1zM714 64h1v1h-1zM718 64h1v1h-1zM714 65h1v1h-1zM718 65h1v1h-1zM714 66h1v1h-1zM718 66h1v1h-1zM715 67h3v1h-3zM693 30h1v1h-1zM692 31h2v1h-2zM691 32h1v1h-1zM693 32h1v1h-1zM690 33h1v1h-1zM693 33h1v1h-1zM689 34h6v1h-6zM693 35h1v1h-1zM693 36h1v1h-1zM697 30h3v1h-3zM696 31h1v1h-1zM700 31h1v1h-1zM696 32h1v1h-1zM700 32h1v1h-1zM696 33h1v1h-1zM700 33h1v1h-1zM696 34h1v1h-1zM700 34h1v1h-1zM696 35h1v1h-1zM700 35h1v1h-1zM697 36h3v1h-3zM703 30h3v1h-3zM702 31h1v1h-1zM706 31h1v1h-1zM702 32h1v1h-1zM706 32h1v1h-1zM702 33h1v1h-1zM706 33h1v1h-1zM702 34h1v1h-1zM706 34h1v1h-1zM702 35h1v1h-1zM706 35h1v1h-1zM703 36h3v1h-3zM709 30h3v1h-3zM708 31h1v1h-1zM712 31h1v1h-1zM708 32h1v1h-1zM712 32h1v1h-1zM708 33h1v1h-1zM712 33h1v1h-1zM708 34h1v1h-1zM712 34h1v1h-1zM708 35h1v1h-1zM712 35h1v1h-1zM709 36h3v1h-3zM715 30h3v1h-3zM714 31h1v1h-1zM718 31h1v1h-1zM714 32h1v1h-1zM718 32h1v1h-1zM714 33h1v1h-1zM718 33h1v1h-1zM714 34h1v1h-1zM718 34h1v1h-1zM714 35h1v1h-1zM718 35h1v1h-1zM715 36h3v1h-3z" fill="#000" shape-rendering="crispEdges"/>
</svg>
<div id="txt">
<div class="t" style="left:288px;top:13.3px;font-size:18px;-webkit-text-stroke:0.45px #000;"><span style="letter-spacing:-0.28px">Nikkei</span><span style="position:absolute;left:54.6px;top:0;letter-spacing:0px">225</span></div>
<div class="t" style="left:522px;top:12.2px;font-size:15px;color:#8c8c8c;transform:scaleX(0.9);transform-origin:0 0;">www.chartbuero.de</div>
<div class="t" style="left:9px;top:449.1px;font-size:11px;color:#858585;letter-spacing:0.13px;">Hoppenstedt Charts</div>
</div>
</body></html>
